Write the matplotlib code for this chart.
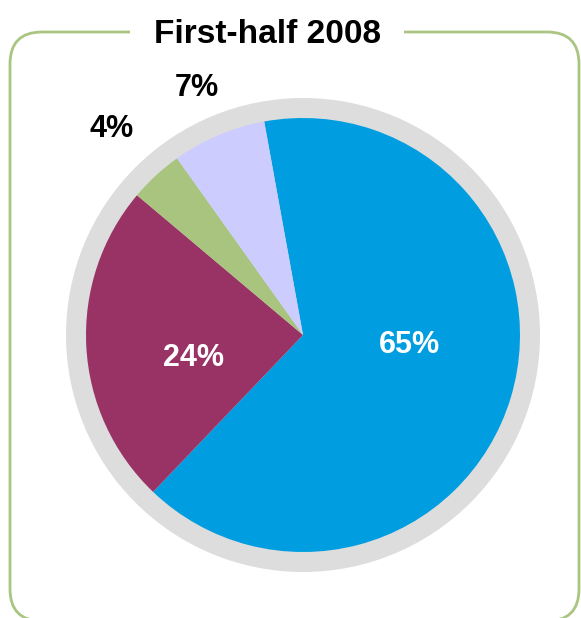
import matplotlib
matplotlib.use("Agg")
import matplotlib.pyplot as plt
from matplotlib.patches import Circle, FancyBboxPatch

# Data
title = "First-half 2008"
values = [65, 24, 4, 7]
labels = ["65%", "24%", "4%", "7%"]
colors = ["#009EE0", "#993366", "#A9C47F", "#CCCCFF"]
label_colors = ["white", "white", "black", "black"]

# Layout in pixels (y measured from top of the image)
W, H = 581, 618
cx, cy = 303, 335
r_pie, r_ring = 217, 237
label_pos = [(409, 345), (193, 358), (112, 129), (197, 88)]

plt.rcParams["font.family"] = ["Liberation Sans", "DejaVu Sans"]

fig = plt.figure(figsize=(W / 100, H / 100), dpi=100)
ax = fig.add_axes([0, 0, 1, 1])

# rounded frame (bottom edge runs just past the image)
box = FancyBboxPatch((10, H - 621), 569, 589,
                     boxstyle="round,pad=0,rounding_size=32",
                     facecolor="white", edgecolor="#AAC582", linewidth=2)
ax.add_patch(box)

# grey ring behind the pie
ax.add_patch(Circle((cx, H - cy), r_ring, facecolor="#DDDDDD", edgecolor="none"))

ax.pie(values, colors=colors, startangle=100.3, counterclock=False,
       center=(cx, H - cy), radius=r_pie, frame=True,
       wedgeprops=dict(linewidth=0))
ax.set_xlim(0, W)
ax.set_ylim(0, H)
ax.set_aspect("equal")
ax.axis("off")

for lab, (x, y), c in zip(labels, label_pos, label_colors):
    ax.text(x, H - y, lab, ha="center", va="center", color=c,
            fontsize=22, fontweight="bold")

ax.text(267, H - 43, title, ha="center", va="baseline", fontsize=24,
        fontweight="bold", color="black",
        bbox=dict(facecolor="white", edgecolor="none", pad=17))

fig.savefig("out.png", dpi=100)
